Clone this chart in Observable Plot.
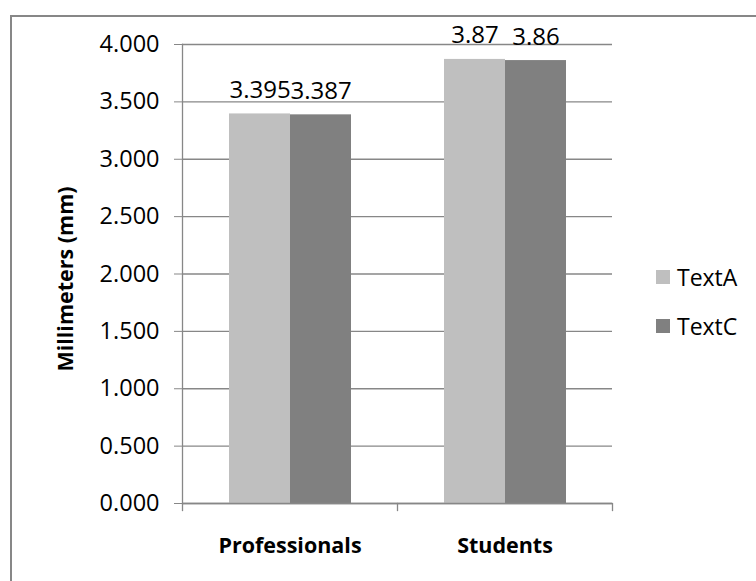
<!DOCTYPE html>
<html><head><meta charset="utf-8">
<script src="https://cdn.jsdelivr.net/npm/d3@7"></script>
<script src="https://cdn.jsdelivr.net/npm/@observablehq/plot@0.6"></script>
<style>
html,body{margin:0;padding:0;background:#fff;overflow:hidden;}
#wrap{position:relative;width:756px;height:581px;overflow:hidden;font-family:"Open Sans",sans-serif;color:#000;}
#frame{position:absolute;left:10px;top:15px;width:800px;height:700px;border-left:2px solid #878787;border-top:2px solid #878787;box-sizing:border-box;}
#chart{position:absolute;left:0;top:0;}
#ylabel{position:absolute;left:64px;top:279px;transform:translate(-50%,-50%) rotate(-90deg);font-weight:bold;font-size:21.5px;white-space:nowrap;}
.item{position:absolute;left:656px;display:flex;align-items:center;font-size:23px;transform:translateY(-50%);white-space:nowrap;}
.sw{width:14px;height:14px;margin-right:7px;}
</style>
</head><body>
<div id="wrap"><div id="frame"></div><div id="chart"></div><div id="ylabel"></div></div>
<script>
const categories = ["Professionals", "Students"];
const series = ["TextA", "TextC"];
const textA = [3.395, 3.87];
const textC = [3.387, 3.86];
const yTicks = [0, 0.5, 1, 1.5, 2, 2.5, 3, 3.5, 4];
const colors = ["#bfbfbf", "#808080"];
const yTitle = "Millimeters (mm)";

const values = {TextA: textA, TextC: textC};
const data = categories.flatMap((c, i) => series.map(s => ({category: c, series: s, value: values[s][i]})));

const gray = "#878787";
const plot = Plot.plot({
  width: 756, height: 581,
  marginLeft: 181, marginRight: 144, marginTop: 44, marginBottom: 78,
  style: {fontFamily: '"Open Sans", sans-serif', fontSize: "23.5px", color: "#000", background: "transparent", overflow: "visible"},
  fx: {domain: categories, padding: 0, label: null},
  x: {domain: series, paddingInner: 0, paddingOuter: 0.752, axis: null},
  y: {domain: [0, 4], label: null},
  color: {domain: series, range: colors},
  marks: [
    Plot.gridY(yTicks, {stroke: gray, strokeOpacity: 1, strokeWidth: 1.3}),
    Plot.barY(data, {fx: "category", x: "series", y: "value", fill: "series"}),
    Plot.ruleY([0], {stroke: gray, strokeWidth: 1.3}),
    Plot.frame({anchor: "left", facetAnchor: "left", stroke: gray, strokeWidth: 1.3}),
    Plot.frame({anchor: "left", insetTop: 459, insetBottom: -7, stroke: gray, strokeWidth: 1.3}),
    Plot.frame({anchor: "right", facetAnchor: "right", insetTop: 459, insetBottom: -7, stroke: gray, strokeWidth: 1.3}),
    Plot.axisY(yTicks, {tickSize: 8, tickPadding: 15, tickFormat: d => d.toFixed(3), stroke: gray, label: null}),
    Plot.axisFx({anchor: "bottom", tickSize: 0, tickPadding: 34, fontWeight: "bold", fontSize: 21.5, label: null}),
    Plot.text(data, {fx: "category", x: "series", y: "value", text: d => String(d.value), lineAnchor: "bottom", dy: -16, fontSize: 24, fill: "#000"})
  ]
});
document.getElementById("chart").appendChild(plot);
document.getElementById("ylabel").textContent = yTitle;
series.forEach((s, i) => {
  const item = document.createElement("div");
  item.className = "item";
  item.style.top = (277 + i * 49) + "px";
  const sw = document.createElement("div");
  sw.className = "sw";
  sw.style.background = colors[i];
  const t = document.createElement("span");
  t.textContent = s;
  item.appendChild(sw); item.appendChild(t);
  document.getElementById("wrap").appendChild(item);
});
</script>
</body></html>
